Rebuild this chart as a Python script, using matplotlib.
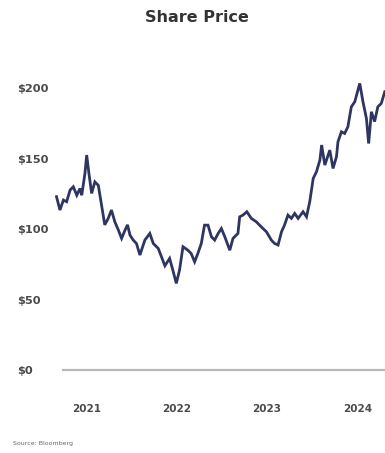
import matplotlib
matplotlib.use("Agg")
import matplotlib.pyplot as plt
import pandas as pd

# Share price observations (USD)
dates = [
    "2020-09-03", "2020-09-17", "2020-10-01", "2020-10-14", "2020-10-28",
    "2020-11-10", "2020-11-24", "2020-12-07", "2020-12-14", "2020-12-27",
    "2021-01-03", "2021-01-12", "2021-01-23", "2021-02-05", "2021-02-19",
    "2021-03-04", "2021-03-17", "2021-03-31", "2021-04-13", "2021-04-27",
    "2021-05-11", "2021-05-24", "2021-06-07", "2021-06-17", "2021-06-27",
    "2021-07-10", "2021-07-23", "2021-08-06", "2021-08-26", "2021-09-15",
    "2021-09-29", "2021-10-19", "2021-11-01", "2021-11-15", "2021-12-04",
    "2021-12-17", "2021-12-31", "2022-01-13", "2022-01-27", "2022-02-16",
    "2022-03-01", "2022-03-15", "2022-03-28", "2022-04-11", "2022-04-24",
    "2022-05-08", "2022-05-22", "2022-06-04", "2022-06-18", "2022-07-01",
    "2022-07-15", "2022-08-04", "2022-08-17", "2022-09-06", "2022-09-13",
    "2022-09-26", "2022-10-12", "2022-10-30", "2022-11-19", "2022-12-09",
    "2022-12-30", "2023-01-19", "2023-02-01", "2023-02-15", "2023-03-01",
    "2023-03-13", "2023-03-27", "2023-04-10", "2023-04-23", "2023-05-07",
    "2023-05-27", "2023-06-10", "2023-06-23", "2023-07-07", "2023-07-20",
    "2023-08-03", "2023-08-10", "2023-08-23", "2023-09-12", "2023-09-25",
    "2023-10-09", "2023-10-15", "2023-10-29", "2023-11-11", "2023-11-24",
    "2023-12-08", "2023-12-22", "2023-12-31", "2024-01-11", "2024-01-24",
    "2024-02-07", "2024-02-16", "2024-02-27", "2024-03-11", "2024-03-24",
    "2024-04-07", "2024-04-21",
]
prices = [
    123.0, 113.5, 120.6, 119.4, 127.7,
    130.0, 124.0, 128.8, 124.0, 139.5,
    152.5, 139.5, 125.3, 133.5, 131.0,
    117.0, 103.0, 107.6, 113.5, 105.0,
    99.3, 93.4, 99.3, 103.0, 95.7,
    92.2, 89.8, 81.6, 92.2, 96.9,
    89.8, 86.3, 80.4, 74.0, 79.2,
    70.9, 61.5, 70.9, 87.5, 85.0,
    82.7, 76.8, 82.7, 89.8, 102.8,
    102.8, 94.5, 92.2, 96.9, 100.4,
    94.5, 85.0, 93.4, 96.9, 108.7,
    109.9, 112.3, 107.6, 105.2, 101.6,
    98.1, 92.2, 89.8, 88.7, 98.1,
    102.8, 109.9, 107.6, 111.1, 107.6,
    112.3, 108.7, 119.4, 135.9, 140.6,
    148.9, 159.6, 145.4, 156.0, 143.0,
    151.3, 161.9, 169.0, 167.8, 172.5,
    186.7, 190.3, 196.2, 203.3, 190.3,
    178.4, 160.7, 183.2, 176.2, 186.7,
    189.1, 197.4,
]

y_ticks = [0, 50, 100, 150, 200]
y_tick_labels = ["$0", "$50", "$100", "$150", "$200"]
year_ticks = ["2021-01-01", "2022-01-01", "2023-01-01", "2024-01-01"]
year_labels = ["2021", "2022", "2023", "2024"]

W, H = 385, 453
fig = plt.figure(figsize=(W / 100, H / 100), dpi=100)
fig.patch.set_facecolor("white")

left_px, right_px, top_px, bottom_px = 55, 385, 70, 380
ax = fig.add_axes([left_px / W, 1 - bottom_px / H,
                   (right_px - left_px) / W, (bottom_px - top_px) / H])

x = pd.to_datetime(dates)
ax.plot(x, prices, color="#2e3561", lw=2.0, solid_joinstyle="miter")

ax.set_xlim(pd.Timestamp("2020-08-28"), pd.Timestamp("2024-04-22"))
ax.set_ylim(-7, 212.8)

for s in ax.spines.values():
    s.set_visible(False)

# zero baseline
x0_frac = (63 - left_px) / (right_px - left_px)
ax.axhline(0, xmin=x0_frac, xmax=1, color="#b8b8b8", lw=1.6)

label_color = "#4a4a4a"
ax.set_yticks(y_ticks)
ax.set_yticklabels(y_tick_labels)
ax.tick_params(axis="y", length=0, pad=(left_px - 17) * 0.72,
               labelsize=8.2, labelcolor=label_color)
for t in ax.get_yticklabels():
    t.set_horizontalalignment("left")
    t.set_fontweight("bold")

ax.set_xticks(pd.to_datetime(year_ticks))
ax.set_xticklabels(year_labels)
ax.tick_params(axis="x", length=0, pad=17, labelsize=7.5,
               labelcolor=label_color)
for t in ax.get_xticklabels():
    t.set_fontweight("bold")

fig.text(197 / W, 1 - 17 / H, "Share Price", ha="center", va="center",
         fontsize=11.5, fontweight="bold", color="#333333")
fig.text(13 / W, 1 - 443 / H, "Source: Bloomberg", ha="left", va="center",
         fontsize=4.5, color="#666666")

fig.savefig("out.png", dpi=100, facecolor="white")
